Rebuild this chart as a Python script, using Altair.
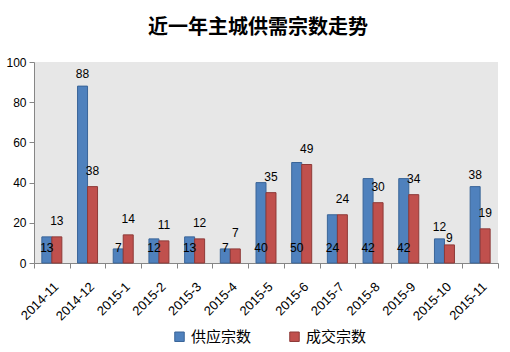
import altair as alt
import pandas as pd

months = ["2014-11", "2014-12", "2015-1", "2015-2", "2015-3", "2015-4", "2015-5",
          "2015-6", "2015-7", "2015-8", "2015-9", "2015-10", "2015-11"]
series_names = ["供应宗数", "成交宗数"]
supply = [13, 88, 7, 12, 13, 7, 40, 50, 24, 42, 42, 12, 38]
deals = [13, 38, 14, 11, 12, 7, 35, 49, 24, 30, 34, 9, 17]
supply_labels = [13, 88, 7, 12, 13, 7, 40, 50, 24, 42, 42, 12, 38]
deal_labels = [13, 38, 14, 11, 12, 7, 35, 49, 24, 30, 34, 9, 19]
supply_place = ["base", "top", "base", "base", "base", "base", "base",
                "base", "base", "base", "base", "top", "top"]
deal_place = ["high", "high", "high", "high", "high", "high", "high",
              "high", "high", "high", "high", "near", "high"]

rows = []
for i, m in enumerate(months):
    rows.append({"month": m, "series": series_names[0], "value": supply[i],
                 "label": str(supply_labels[i]), "place": supply_place[i]})
    rows.append({"month": m, "series": series_names[1], "value": deals[i],
                 "label": str(deal_labels[i]), "place": deal_place[i]})
df = pd.DataFrame(rows)

NUM_FONT = "Liberation Sans"
CJK_FONT = "Noto Sans CJK SC"

x_enc = alt.X("month:N", sort=months,
              scale=alt.Scale(paddingInner=0, paddingOuter=0),
              axis=alt.Axis(title=None, labelAngle=-45, tickBand="extent",
                            tickSize=5, domainColor="#868686", tickColor="#868686",
                            labelFont=NUM_FONT, labelFontSize=13, labelColor="#000000",
                            labelPadding=12))
xo_enc = alt.XOffset("series:N", sort=series_names,
                     scale=alt.Scale(paddingInner=0, paddingOuter=0.785))
y_enc = alt.Y("value:Q", scale=alt.Scale(domain=[0, 100], nice=False),
              axis=alt.Axis(title=None, values=[0, 20, 40, 60, 80, 100], grid=False,
                            tickSize=5, domainColor="#868686", tickColor="#868686",
                            labelFont=NUM_FONT, labelFontSize=12, labelColor="#000000",
                            labelPadding=3))

legend = alt.Legend(title=None, orient="none", legendX=138, legendY=267,
                    direction="horizontal", symbolType="square", symbolSize=90,
                    symbolStrokeWidth=1, labelFont=CJK_FONT, labelFontSize=15,
                    labelColor="#000000", labelOffset=4, columnPadding=35)

bars = alt.Chart(df).mark_bar(strokeWidth=1).encode(
    x=x_enc, xOffset=xo_enc, y=y_enc,
    color=alt.Color("series:N", scale=alt.Scale(domain=series_names,
                                                range=["#4F81BD", "#C0504D"]),
                    legend=legend),
    stroke=alt.Stroke("series:N", scale=alt.Scale(domain=series_names,
                                                  range=["#3A6598", "#8E3A38"]),
                      legend=legend),
)

offsets = {"top": -12, "high": -16, "near": -7}
layers = [bars]
for place, dy in offsets.items():
    layers.append(
        alt.Chart(df).transform_filter(alt.datum.place == place).mark_text(
            font=NUM_FONT, fontSize=12, color="#000000", baseline="middle", dy=dy
        ).encode(x=x_enc, xOffset=xo_enc, y=y_enc, text="label:N")
    )
layers.append(
    alt.Chart(df).transform_filter(alt.datum.place == "base").mark_text(
        font=NUM_FONT, fontSize=12, color="#000000", baseline="middle", dy=-15
    ).encode(x=x_enc, xOffset=xo_enc, y=alt.datum(0), text="label:N")
)

chart = alt.layer(*layers).properties(
    width=464, height=201,
    title=alt.Title("近一年主城供需宗数走势", font=CJK_FONT, fontSize=20,
                    fontWeight="bold", color="#000000", anchor="middle",
                    frame="group", baseline="middle", offset=8, dx=-8),
    autosize=alt.AutoSizeParams(type="none"),
    padding={"left": 34, "top": 62, "right": 12, "bottom": 89},
).configure_view(fill="#e7e7e7", stroke=None)

chart.save("out.html", embed_options={"renderer": "svg", "actions": False})
